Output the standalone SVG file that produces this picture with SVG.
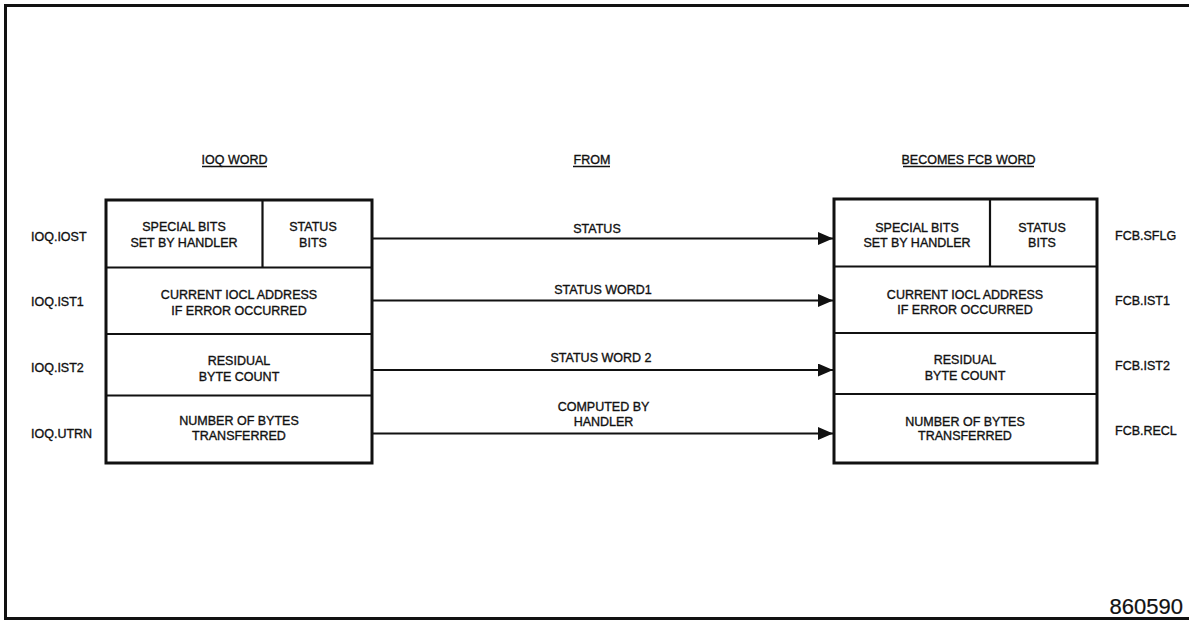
<svg xmlns="http://www.w3.org/2000/svg" width="1189" height="621" viewBox="0 0 1189 621">
<defs>
<style>
text{font-family:"Liberation Sans",Arial,Helvetica,sans-serif;fill:#111;stroke:#111;stroke-width:0.35}
.t{font-size:12.5px;text-anchor:middle}
.l{font-size:12.5px}
.h{font-size:12.5px;text-anchor:middle}
.u{stroke:#111;stroke-width:1.6;fill:none}
.box{fill:#fff;stroke:#111;stroke-width:3}
.div{stroke:#111;stroke-width:2.2;fill:none}
.con{stroke:#111;stroke-width:2;fill:none}
</style>
<marker id="ah" markerWidth="16" markerHeight="13" refX="15" refY="6.5" orient="auto" markerUnits="userSpaceOnUse">
<path d="M0,0 L15,6.5 L0,13 Z" fill="#111"/>
</marker>
</defs>
<rect width="1189" height="621" fill="#fff"/>
<path d="M1189,5.5 H5.5 V618.5 H1189" fill="none" stroke="#111" stroke-width="3"/>

<g id="headings">
<text class="h" x="234.5" y="164">IOQ WORD</text>
<line class="u" x1="202" y1="166.5" x2="267" y2="166.5"/>
<text class="h" x="592" y="164">FROM</text>
<line class="u" x1="573" y1="166.5" x2="610" y2="166.5"/>
<text class="h" x="968.5" y="164">BECOMES FCB WORD</text>
<line class="u" x1="903" y1="166.5" x2="1034" y2="166.5"/>
</g>

<g id="ioq-word">
<rect class="box" x="106" y="200" width="266" height="263"/>
<line class="div" x1="106" y1="267.5" x2="372" y2="267.5"/>
<line class="div" x1="106" y1="334" x2="372" y2="334"/>
<line class="div" x1="106" y1="395.5" x2="372" y2="395.5"/>
<line class="div" x1="262.5" y1="200" x2="262.5" y2="267.5"/>
<text class="t" x="184" y="231">SPECIAL BITS</text>
<text class="t" x="184" y="246.5">SET BY HANDLER</text>
<text class="t" x="313" y="231">STATUS</text>
<text class="t" x="313" y="246.5">BITS</text>
<text class="t" x="239" y="299">CURRENT IOCL ADDRESS</text>
<text class="t" x="239" y="315">IF ERROR OCCURRED</text>
<text class="t" x="239" y="365">RESIDUAL</text>
<text class="t" x="239" y="380.5">BYTE COUNT</text>
<text class="t" x="239" y="425">NUMBER OF BYTES</text>
<text class="t" x="239" y="440">TRANSFERRED</text>
</g>

<g id="ioq-labels">
<text class="l" x="31" y="241">IOQ.IOST</text>
<text class="l" x="31" y="306">IOQ.IST1</text>
<text class="l" x="31" y="372">IOQ.IST2</text>
<text class="l" x="31" y="437.5">IOQ.UTRN</text>
</g>

<g id="fcb-word">
<rect class="box" x="834" y="199" width="263" height="264"/>
<line class="div" x1="834" y1="266.5" x2="1097" y2="266.5"/>
<line class="div" x1="834" y1="333" x2="1097" y2="333"/>
<line class="div" x1="834" y1="394" x2="1097" y2="394"/>
<line class="div" x1="990" y1="199" x2="990" y2="266.5"/>
<text class="t" x="917" y="231.5">SPECIAL BITS</text>
<text class="t" x="917" y="247">SET BY HANDLER</text>
<text class="t" x="1042" y="231.5">STATUS</text>
<text class="t" x="1042" y="247">BITS</text>
<text class="t" x="965" y="298.5">CURRENT IOCL ADDRESS</text>
<text class="t" x="965" y="314">IF ERROR OCCURRED</text>
<text class="t" x="965" y="364">RESIDUAL</text>
<text class="t" x="965" y="380">BYTE COUNT</text>
<text class="t" x="965" y="426">NUMBER OF BYTES</text>
<text class="t" x="965" y="440">TRANSFERRED</text>
</g>

<g id="fcb-labels">
<text class="l" x="1115" y="240">FCB.SFLG</text>
<text class="l" x="1115" y="305">FCB.IST1</text>
<text class="l" x="1115" y="370">FCB.IST2</text>
<text class="l" x="1115" y="435">FCB.RECL</text>
</g>

<g id="connectors">
<line class="con" x1="372" y1="238.5" x2="833" y2="238.5" marker-end="url(#ah)"/>
<line class="con" x1="372" y1="300.5" x2="833" y2="300.5" marker-end="url(#ah)"/>
<line class="con" x1="372" y1="370" x2="833" y2="370" marker-end="url(#ah)"/>
<line class="con" x1="372" y1="433.5" x2="833" y2="433.5" marker-end="url(#ah)"/>
<text class="t" x="597" y="232.5">STATUS</text>
<text class="t" x="603" y="294">STATUS WORD1</text>
<text class="t" x="601" y="361.5">STATUS WORD 2</text>
<text class="t" x="603.5" y="410.5">COMPUTED BY</text>
<text class="t" x="603.5" y="426">HANDLER</text>
</g>

<text x="1183" y="614" style="font-size:22px;text-anchor:end;stroke-width:0.2">860590</text>
</svg>
